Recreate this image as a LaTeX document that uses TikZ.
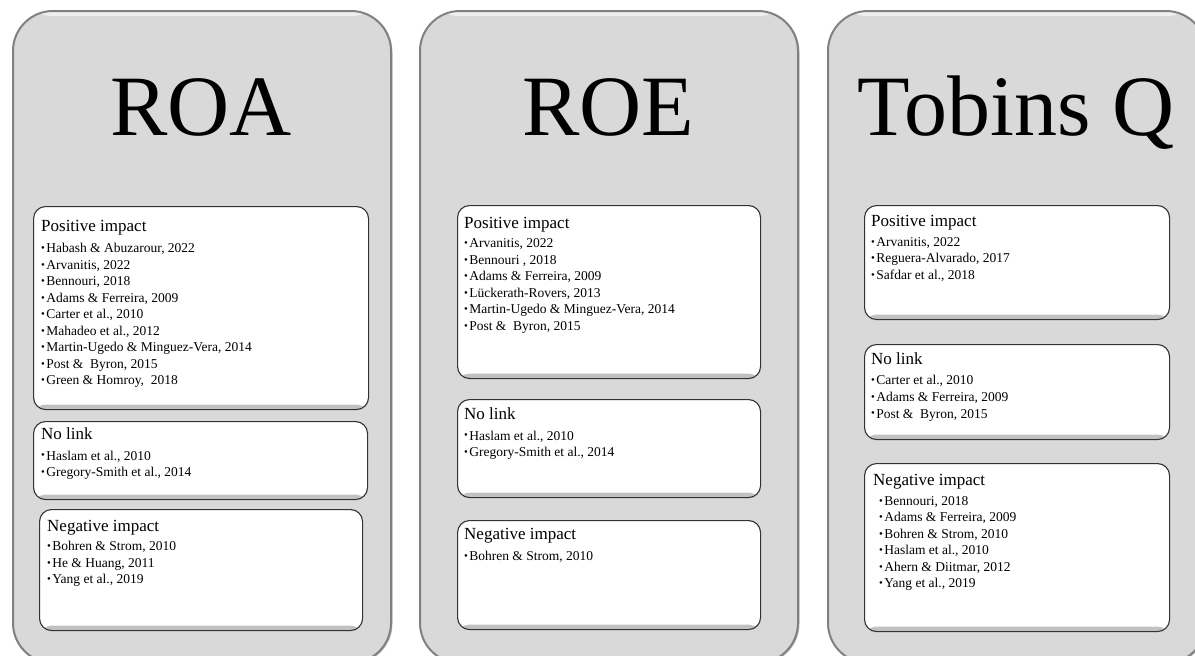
\documentclass[tikz,border=0pt]{standalone}
\usepackage{fontspec}
\setmainfont{Liberation Serif}
\usetikzlibrary{positioning,shadows}

\newcommand{\boxhead}[1]{{\fontsize{17}{20}\selectfont\rmfamily #1}}
\newcommand{\dotitem}{\raisebox{0.1em}{\scalebox{0.8}{\textbullet}}\hspace{0.1em}}

\tikzset{
    panel/.style={
        rectangle,
        rounded corners=40pt,
        draw=black!50, line width=2pt,
        fill=black!15,
        minimum width=378pt,
        minimum height=652pt,
        anchor=north west,
        drop shadow={shadow xshift=1.5pt, shadow yshift=-1pt, opacity=0.5},
        path picture={
            \shade[top color=black!6, bottom color=black!15]
                (path picture bounding box.north west) rectangle
                ([yshift=-5pt]path picture bounding box.north east);
        }
    },
    bigtitle/.style={font=\fontsize{86}{86}\selectfont, anchor=base, inner sep=0pt},
    inbox/.style={
        rectangle,
        rounded corners=12pt,
        draw=black!80, line width=1.1pt,
        fill=white,
        anchor=north west,
        path picture={
            \shade[top color=white, bottom color=black!25]
                ([yshift=5pt]path picture bounding box.south west) rectangle
                (path picture bounding box.south east);
        }
    },
    boxtext/.style={align=left, inner sep=0pt, font=\fontsize{13.5}{16.5}\selectfont}
}

\begin{document}
\begin{tikzpicture}[x=1pt, y=-1pt]
    \useasboundingbox (0,0) rectangle (1195,656);
    \clip (0,0) rectangle (1195,656);

    \node[panel] (roaPanel) at (12,10) {};
    \node[panel] (roePanel) at (419,10) {};
    \node[panel] (tobinPanel) at (827,10) {};

    \node[bigtitle] (roaTitle) at (201,135) {ROA};
    \node[bigtitle] (roeTitle) at (608,135) {ROE};
    \node[bigtitle] (tobinTitle) at (1016,135) {Tobins Q};

    % ROA
    \node[inbox, minimum width=335pt, minimum height=203pt] (roaPos) at (33,206) {};
    \node[boxtext, below right=14pt and 8pt of roaPos.north west] (roaPosTxt) {%
        \boxhead{Positive impact}\\[5pt]
        \dotitem Habash \& Abuzarour, 2022\\
        \dotitem Arvanitis, 2022\\
        \dotitem Bennouri, 2018\\
        \dotitem Adams \& Ferreira, 2009\\
        \dotitem Carter et al., 2010\\
        \dotitem Mahadeo et al., 2012\\
        \dotitem Martin-Ugedo \& Minguez-Vera, 2014\\
        \dotitem Post \&~ Byron, 2015\\
        \dotitem Green \& Homroy,~ 2018};
    \node[inbox, minimum width=334pt, minimum height=78pt] (roaNone) at (33,421) {};
    \node[boxtext, below right=6pt and 8pt of roaNone.north west] (roaNoneTxt) {%
        \boxhead{No link}\\[4.5pt]
        \dotitem Haslam et al., 2010\\
        \dotitem Gregory-Smith et al., 2014};
    \node[inbox, minimum width=323pt, minimum height=121pt] (roaNeg) at (39,509) {};
    \node[boxtext, below right=11pt and 8pt of roaNeg.north west] (roaNegTxt) {%
        \boxhead{Negative impact}\\[3pt]
        \dotitem Bohren \& Strom, 2010\\
        \dotitem He \& Huang, 2011\\
        \dotitem Yang et al., 2019};

    % ROE
    \node[inbox, minimum width=303pt, minimum height=173pt] (roePos) at (457,205) {};
    \node[boxtext, below right=12pt and 7pt of roePos.north west] (roePosTxt) {%
        \boxhead{Positive impact}\\[3pt]
        \dotitem Arvanitis, 2022\\
        \dotitem Bennouri , 2018\\
        \dotitem Adams \& Ferreira, 2009\\
        \dotitem Lückerath-Rovers, 2013\\
        \dotitem Martin-Ugedo \& Minguez-Vera, 2014\\
        \dotitem Post \&~ Byron, 2015};
    \node[inbox, minimum width=303pt, minimum height=98pt] (roeNone) at (457,399) {};
    \node[boxtext, below right=8pt and 7pt of roeNone.north west] (roeNoneTxt) {%
        \boxhead{No link}\\[4.5pt]
        \dotitem Haslam et al., 2010\\
        \dotitem Gregory-Smith et al., 2014};
    \node[inbox, minimum width=303pt, minimum height=109pt] (roeNeg) at (457,520) {};
    \node[boxtext, below right=8pt and 7pt of roeNeg.north west] (roeNegTxt) {%
        \boxhead{Negative impact}\\[4.5pt]
        \dotitem Bohren \& Strom, 2010};

    % Tobins Q
    \node[inbox, minimum width=305pt, minimum height=114pt] (tobinPos) at (864,205) {};
    \node[boxtext, below right=10pt and 7pt of tobinPos.north west] (tobinPosTxt) {%
        \boxhead{Positive impact}\\[3.5pt]
        \dotitem Arvanitis, 2022\\
        \dotitem Reguera-Alvarado, 2017\\
        \dotitem Safdar et al., 2018};
    \node[inbox, minimum width=305pt, minimum height=95pt] (tobinNone) at (864,344) {};
    \node[boxtext, below right=8pt and 7pt of tobinNone.north west] (tobinNoneTxt) {%
        \boxhead{No link}\\[4.5pt]
        \dotitem Carter et al., 2010\\
        \dotitem Adams \& Ferreira, 2009\\
        \dotitem Post \&~ Byron, 2015};
    \node[inbox, minimum width=305pt, minimum height=168pt] (tobinNeg) at (864,463) {};
    \node[boxtext, below right=11pt and 9pt of tobinNeg.north west] (tobinNegTxt) {%
        \boxhead{Negative impact}\\[3.5pt]
        \hspace{6pt}\dotitem Bennouri, 2018\\
        \hspace{6pt}\dotitem Adams \& Ferreira, 2009\\
        \hspace{6pt}\dotitem Bohren \& Strom, 2010\\
        \hspace{6pt}\dotitem Haslam et al., 2010\\
        \hspace{6pt}\dotitem Ahern \& Diitmar, 2012\\
        \hspace{6pt}\dotitem Yang et al., 2019};
\end{tikzpicture}
\end{document}
